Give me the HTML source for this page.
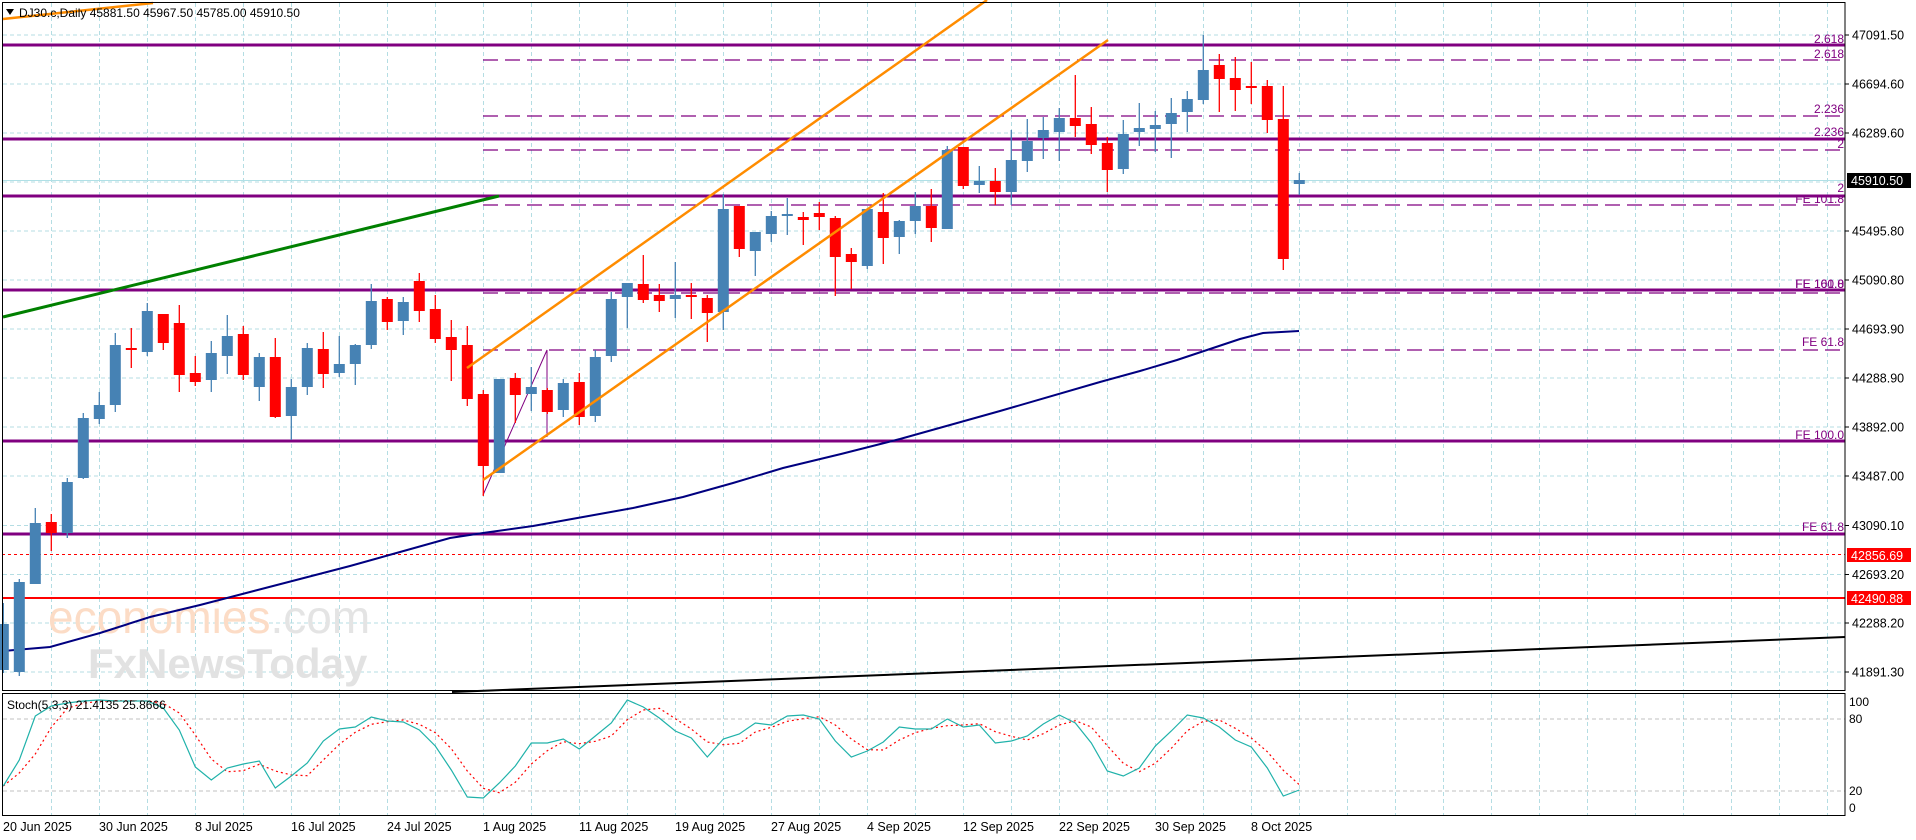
<!DOCTYPE html>
<html><head><meta charset="utf-8"><style>
html,body{margin:0;padding:0;background:#fff;width:1916px;height:840px;overflow:hidden}
svg{display:block;font-family:"Liberation Sans",sans-serif}
</style></head><body>
<svg id="s" width="1916" height="840" xmlns="http://www.w3.org/2000/svg">
<rect width="1916" height="840" fill="#fff"/>
<g id="grid"></g>
<!-- watermark -->
<text x="48" y="633" font-size="46" fill="#fcdcc6">economies<tspan fill="#e4e4e4">.com</tspan></text>
<text x="88" y="678" font-size="42" font-weight="bold" fill="#e2e2e2">FxNewsToday</text>
<!-- current price line -->
<line x1="2" y1="180.5" x2="1845" y2="180.5" stroke="#b0e0e6" stroke-width="1"/>
<!-- purple dashed -->
<g stroke="#800080" stroke-width="1.2" stroke-dasharray="15 7">
<line x1="483" y1="60" x2="1845" y2="60"/>
<line x1="483" y1="116" x2="1845" y2="116"/>
<line x1="483" y1="150" x2="1845" y2="150"/>
<line x1="483" y1="205" x2="1845" y2="205"/>
<line x1="483" y1="293" x2="1845" y2="293"/>
<line x1="483" y1="350" x2="1845" y2="350"/>
</g>
<!-- purple solid -->
<g stroke="#800080" stroke-width="3">
<line x1="2" y1="45" x2="1845" y2="45"/>
<line x1="2" y1="139" x2="1845" y2="139"/>
<line x1="2" y1="196" x2="1845" y2="196"/>
<line x1="2" y1="290" x2="1845" y2="290"/>
<line x1="2" y1="441" x2="1845" y2="441"/>
<line x1="2" y1="534" x2="1845" y2="534"/>
</g>
<line x1="2" y1="554.5" x2="1845" y2="554.5" stroke="#ff0000" stroke-width="1" stroke-dasharray="3 3"/>
<line x1="2" y1="598" x2="1845" y2="598" stroke="#ff0000" stroke-width="2"/>
<line x1="452" y1="692" x2="1845" y2="637" stroke="#000" stroke-width="2"/>
<line x1="3" y1="317" x2="499" y2="196" stroke="#008000" stroke-width="3"/>
<polyline fill="none" stroke="#000080" stroke-width="2" points="3,651 50,647 100,633 150,617 200,605 250,592 300,579 350,566 400,552 450,538 483,533 533,526 583,517 633,508 683,497 733,483 783,468 841,454 900,439 1000,411 1100,382 1140,371 1177,360 1213,348 1240,339 1263,333 1299,331"/>
<polyline fill="none" stroke="#800080" stroke-width="1" points="483,495 547,350 547,437"/>
<g id="candles"></g>
<g stroke="#ff8c00" stroke-width="2.5">
<line x1="467" y1="368" x2="987" y2="0"/>
<line x1="483" y1="480" x2="1108" y2="40"/>
<line x1="3" y1="19" x2="153" y2="3"/>
</g>
<!-- frames -->
<rect x="2.5" y="2.5" width="1842.5" height="688" fill="none" stroke="#000" stroke-width="1"/>
<rect x="2.5" y="693.5" width="1842.5" height="122" fill="none" stroke="#000" stroke-width="1"/>
<g id="stoch"></g>
<!-- title -->
<polygon points="6,9 14,9 10,15" fill="#000"/>
<text x="19" y="17" font-size="12" fill="#000">DJ30.c,Daily  45881.50 45967.50 45785.00 45910.50</text>
<text x="7" y="709" font-size="12" fill="#000">Stoch(5,3,3) 21.4135 25.8666</text>
<!-- FE labels -->
<g font-size="12" fill="#800080" text-anchor="end">
<text x="1844" y="43">2.618</text>
<text x="1844" y="58">2.618</text>
<text x="1844" y="113">2.236</text>
<text x="1844" y="136">2.236</text>
<text x="1844" y="148">2</text>
<text x="1844" y="192">2</text>
<text x="1844" y="203">FE 101.8</text>
<text x="1844" y="288">FE 161.8</text>
<text x="1844" y="288">FE 100.0</text>
<text x="1844" y="346">FE 61.8</text>
<text x="1844" y="439">FE 100.0</text>
<text x="1844" y="531">FE 61.8</text>
</g>
<g id="axis" font-size="12.5" fill="#000"></g>
<rect x="1847" y="173" width="64" height="15" fill="#000"/>
<text x="1851" y="185" font-size="12.5" fill="#fff">45910.50</text>
<rect x="1847" y="548" width="64" height="14" fill="#ff0000"/>
<text x="1851" y="560" font-size="12.5" fill="#fff">42856.69</text>
<rect x="1847" y="591" width="64" height="14" fill="#ff0000"/>
<text x="1851" y="603" font-size="12.5" fill="#fff">42490.88</text>
<g font-size="12" fill="#000">
<text x="1849" y="706">100</text><text x="1849" y="723">80</text>
<text x="1849" y="795">20</text><text x="1849" y="812">0</text>
</g>
<g font-size="12.5" fill="#000">
<text x="3" y="831">20 Jun 2025</text>
<text x="99" y="831">30 Jun 2025</text>
<text x="195" y="831">8 Jul 2025</text>
<text x="291" y="831">16 Jul 2025</text>
<text x="387" y="831">24 Jul 2025</text>
<text x="483" y="831">1 Aug 2025</text>
<text x="579" y="831">11 Aug 2025</text>
<text x="675" y="831">19 Aug 2025</text>
<text x="771" y="831">27 Aug 2025</text>
<text x="867" y="831">4 Sep 2025</text>
<text x="963" y="831">12 Sep 2025</text>
<text x="1059" y="831">22 Sep 2025</text>
<text x="1155" y="831">30 Sep 2025</text>
<text x="1251" y="831">8 Oct 2025</text>
</g>
</svg>
<script>
var NS="http://www.w3.org/2000/svg";
function el(p,t,a){var e=document.createElementNS(NS,t);for(var k in a)e.setAttribute(k,a[k]);p.appendChild(e);return e;}
var g=document.getElementById("grid");
var gc="#b4dde3";
for(var k=0;k<38;k++){var x=51.5+48*k;
 el(g,"line",{x1:x,y1:3,x2:x,y2:690,stroke:gc,"stroke-dasharray":"4 3"});
 el(g,"line",{x1:x,y1:694,x2:x,y2:815,stroke:gc,"stroke-dasharray":"4 3"});}
var hy=[35,84,133,182,231,280,329,378,427,476,525.5,574.5,623,672];
for(var i=0;i<hy.length;i++)el(g,"line",{x1:3,y1:hy[i],x2:1845,y2:hy[i],stroke:gc,"stroke-dasharray":"4 3"});
el(g,"line",{x1:3,y1:719,x2:1845,y2:719,stroke:"#c0c0c0","stroke-dasharray":"4 3"});
el(g,"line",{x1:3,y1:791,x2:1845,y2:791,stroke:"#c0c0c0","stroke-dasharray":"4 3"});
var ax=document.getElementById("axis");
var lab=["47091.50","46694.60","46289.60",null,"45495.80","45090.80","44693.90","44288.90","43892.00","43487.00","43090.10","42693.20","42288.20","41891.30"];
for(var i=0;i<hy.length;i++){if(!lab[i])continue;el(ax,"line",{x1:1845,y1:hy[i],x2:1849,y2:hy[i],stroke:"#000"});
 var t=el(ax,"text",{x:1852,y:hy[i]+4.5});t.textContent=lab[i];}
var C=[
["b",603,624,670,673],["b",579,582,672,676],["b",508,523,584,584],["r",514,522,533,551],["b",478,482,533,538],
["b",413,418,478,479],["b",392,405,419,424],["b",333,345,405,412],["r",328,348,350,368],["b",303,311,352,356],
["r",314,314,343,350],["r",305,323,375,392],["r",356,373,382,386],["b",341,353,380,392],["b",315,336,356,374],
["r",326,334,375,380],["b",353,357,387,401],["r",338,357,417,418],["b",379,387,416,440],["b",343,348,387,395],
["r",332,349,374,388],["b",336,364,373,377],["b",344,345,364,385],["b",284,301,345,349],["r",297,299,322,330],
["b",297,302,321,335],["r",273,281,311,322],["r",295,309,339,343],["r",320,337,350,381],["r",326,345,399,406],
["r",390,394,466,496],["b",379,379,473,473],["r",373,378,395,423],["b",367,387,394,411],["r",388,390,412,414],
["b",379,383,410,417],["r",373,382,417,425],["b",350,357,416,422],["b",292,299,356,362],["b",283,283,297,328],
["r",255,284,300,303],["r",284,295,301,312],["b",262,295,299,318],["r",283,295,297,319],["r",295,298,313,342],
["b",194,209,312,330],["r",206,206,249,257],["b",232,232,251,276],["b",211,216,234,242],["b",198,214,216,235],
["r",212,217,220,245],["r",202,213,217,230],["r",216,218,257,296],["r",248,254,262,289],["b",209,209,266,269],
["r",193,212,238,264],["b",220,221,237,254],["b",192,206,221,234],["r",189,206,228,242],["b",146,150,229,229],
["r",147,147,186,189],["b",166,181,185,193],["r",168,181,192,205],["b",130,160,192,205],["b",119,141,161,172],
["b",117,130,138,159],["b",108,118,132,161],["r",75,118,126,137],["r",107,124,145,154],["r",137,143,170,192],
["b",120,134,169,174],["b",103,128,132,146],["b",111,125,129,152],["b",98,113,124,158],["b",91,99,112,132],
["b",35,70,100,104],["r",54,65,79,112],["r",57,78,90,111],["r",62,86,88,104],["r",80,86,120,133],
["r",86,119,259,270],["b",173,180,184,195]];
var cg=document.getElementById("candles");
for(var i=0;i<C.length;i++){var c=C[i],x=3.3+16*i,col=c[0]=="b"?"#4682b4":"#ff0000";
 el(cg,"line",{x1:x,y1:c[1],x2:x,y2:c[4],stroke:col,"stroke-width":1.3});
 el(cg,"rect",{x:x-5.5,y:c[2],width:11,height:Math.max(2,c[3]-c[2]),fill:col});}
var S=[786,760,716,706,703,701,700,701,701,701,708,730,767,780,768,764,761,788,776,763,741,729,727,717,721,722,730,746,770,797,798,783,766,743,743,739,749,736,723,700,707,718,731,738,757,739,734,723,725,716,715,719,741,757,751,742,727,729,729,719,727,725,743,741,736,724,715,723,743,771,776,768,746,731,715,718,727,740,747,768,796,790];
var sg=document.getElementById("stoch"),p1=[],p2=[];
for(var i=0;i<S.length;i++){var x=3.3+16*i;p1.push(x+","+S[i]);
 var a=0,n=0;for(var j=Math.max(0,i-2);j<=i;j++){a+=S[j];n++;}p2.push(x+","+(a/n).toFixed(1));}
el(sg,"polyline",{points:p2.join(" "),fill:"none",stroke:"#ff0000","stroke-width":1.2,"stroke-dasharray":"2 3"});
el(sg,"polyline",{points:p1.join(" "),fill:"none",stroke:"#20b2aa","stroke-width":1.2});
</script>
</body></html>
